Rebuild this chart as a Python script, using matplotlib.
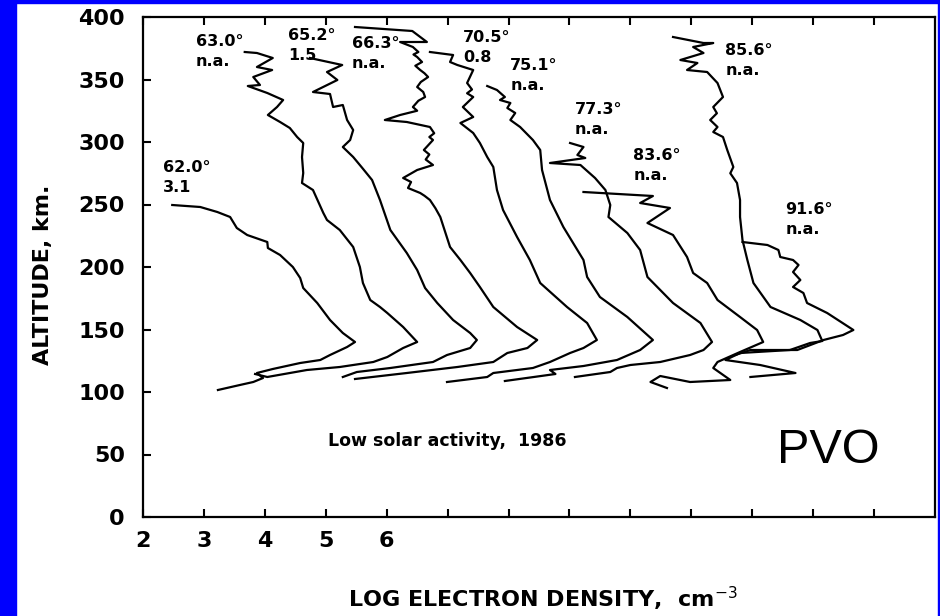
import matplotlib
matplotlib.use('Agg')
import matplotlib.pyplot as plt
from matplotlib.patches import Rectangle

# electron density profiles (log Ne shifted per profile, altitude km)
ne_620 = [2.48, 2.94, 3.22, 3.43, 3.54, 3.71, 4.04, 4.05, 4.25, 4.46, 4.58, 4.63, 4.86, 5.07, 5.28, 5.48,
          5.35, 5.07, 4.91, 4.58, 4.13, 3.87, 3.97, 3.81, 3.59, 3.23]
alt_620 = [249.6, 248.0, 244.0, 240.0, 231.2, 225.6, 220.0, 215.2, 209.6, 200.0, 191.2, 183.2, 171.2, 157.6, 147.2, 140.0,
           136.0, 129.6, 125.6, 123.2, 118.4, 115.2, 111.2, 108.0, 105.6, 101.6]

ne_630 = [3.67, 3.87, 4.13, 3.87, 4.12, 3.81, 3.92, 3.72, 4.04, 4.30, 4.20, 4.05, 4.25, 4.41, 4.53, 4.63, 4.61, 4.63,
          4.61, 4.79, 4.96, 5.02, 5.23, 5.45, 5.56, 5.61, 5.73, 5.89, 6.01, 6.27, 6.50,
          6.27, 6.01, 5.78, 5.23, 4.69, 4.04, 3.84]
alt_630 = [372.0, 371.2, 367.2, 360.0, 357.6, 352.0, 345.6, 344.8, 339.2, 333.6, 328.0, 321.6, 316.0, 311.2, 304.0, 299.2, 288.0, 275.2,
           267.2, 261.6, 243.2, 237.6, 229.6, 216.0, 200.0, 187.2, 173.6, 168.0, 163.2, 152.0, 140.0,
           135.2, 128.0, 124.0, 120.0, 117.6, 112.0, 114.4]

ne_652 = [4.74, 5.27, 5.02, 5.19, 4.79, 5.07, 5.12, 5.28, 5.35, 5.45, 5.40, 5.28, 5.45, 5.60, 5.76, 5.89, 6.06, 6.33,
          6.50, 6.63, 6.83, 7.09, 7.37, 7.48,
          7.37, 6.99, 6.76, 6.06, 5.51, 5.28]
alt_652 = [367.2, 361.6, 356.0, 349.6, 340.0, 338.4, 328.0, 329.6, 317.6, 309.6, 301.6, 296.0, 288.0, 279.2, 269.6, 253.6, 229.6, 211.2,
           197.6, 183.2, 171.2, 157.6, 147.2, 141.6,
           135.2, 129.6, 124.0, 119.2, 116.0, 112.0]

ne_663 = [5.48, 6.42, 6.66, 6.22, 6.43, 6.52, 6.44, 6.50, 6.58, 6.47, 6.55, 6.62, 6.68, 6.56, 6.50, 6.60, 6.63, 6.52,
          6.43, 6.50, 6.22, 5.97, 6.33, 6.71, 6.78, 6.70, 6.76, 6.61, 6.70, 6.64, 6.76, 6.50, 6.27, 6.40,
          6.35, 6.55, 6.62, 6.71, 6.80, 6.88, 6.96, 7.04, 7.21, 7.37, 7.53, 7.75, 8.14, 8.47,
          8.31, 7.98, 7.75, 7.16, 6.33, 5.48]
alt_663 = [392.0, 388.8, 380.0, 380.0, 376.0, 372.0, 370.0, 368.0, 364.0, 361.0, 357.6, 355.0, 352.0, 348.0, 344.0, 340.0, 336.0, 333.0,
           328.0, 325.0, 321.6, 317.6, 316.0, 312.0, 307.0, 304.0, 301.6, 293.6, 290.0, 286.0, 281.6, 277.6, 271.2, 268.0,
           263.2, 259.2, 257.0, 253.6, 247.0, 240.0, 228.0, 216.0, 205.6, 195.2, 184.0, 168.0, 152.0, 141.6,
           135.2, 131.2, 124.0, 120.0, 115.2, 110.4]

ne_705 = [6.71, 7.09, 7.04, 7.16, 7.42, 7.32, 7.40, 7.32, 7.42, 7.25, 7.42, 7.21, 7.42, 7.53, 7.65, 7.75, 7.81, 7.91, 8.14, 8.35,
          8.52, 8.96, 9.29, 9.45,
          9.23, 9.01, 8.68, 8.40, 7.75, 7.65, 6.99]
alt_705 = [372.0, 369.6, 364.0, 361.6, 357.6, 347.2, 342.0, 339.0, 336.0, 328.0, 320.0, 315.2, 307.2, 299.2, 288.0, 280.0, 261.6, 245.6, 224.0, 205.6,
           187.2, 168.0, 155.2, 141.6,
           135.2, 131.2, 124.0, 119.2, 115.2, 112.0, 108.0]

ne_751 = [7.65, 7.81, 7.94, 7.86, 8.03, 7.98, 8.11, 8.03, 8.19, 8.40, 8.52, 8.55, 8.68, 8.90, 9.06, 9.23, 9.29, 9.50,
          9.95, 10.37,
          10.16, 9.78, 9.23, 8.68, 8.77, 7.94]
alt_751 = [344.8, 341.6, 336.0, 333.6, 331.2, 327.2, 323.2, 317.6, 312.0, 301.6, 293.6, 277.6, 253.6, 232.0, 219.2, 205.6, 192.0, 176.0,
           160.0, 141.6,
           133.6, 125.6, 120.8, 117.6, 114.4, 108.8]

ne_773 = [9.01, 9.23, 9.13, 9.26, 8.68, 9.18, 9.42, 9.59, 9.67, 9.64, 9.95, 10.16, 10.28, 10.70, 11.15, 11.34,
          11.20, 10.98, 10.49, 10.00, 9.78, 9.67, 9.09]
alt_773 = [299.2, 296.0, 289.6, 287.2, 283.2, 281.6, 271.2, 261.6, 249.6, 240.0, 227.2, 213.6, 192.0, 171.2, 155.2, 140.0,
           133.6, 129.6, 124.0, 121.6, 119.2, 116.0, 112.0]

ne_836 = [9.23, 10.37, 10.16, 10.65, 10.28, 10.70, 10.93, 11.03, 11.26, 11.43, 11.80, 12.08, 12.18,
          11.80, 11.43, 11.36, 11.64, 10.98, 10.49, 10.33, 10.60]
alt_836 = [260.0, 256.8, 251.2, 247.2, 235.2, 225.6, 208.0, 195.2, 187.2, 173.6, 160.0, 149.6, 140.0,
           132.0, 124.0, 119.2, 109.6, 108.0, 112.8, 108.0, 103.2]

ne_856 = [10.70, 11.20, 11.36, 11.03, 11.20, 10.82, 11.10, 10.93, 11.26, 11.43, 11.52, 11.36, 11.42, 11.31, 11.43, 11.36,
          11.52, 11.59, 11.69, 11.64, 11.75, 11.80, 11.80, 11.84, 11.92, 12.02, 12.30, 12.79, 13.07, 13.15,
          12.95, 12.62, 11.80, 11.56, 12.13, 12.71, 11.97]
alt_856 = [384.0, 379.2, 379.2, 376.0, 371.2, 365.6, 363.2, 357.6, 356.0, 347.2, 336.0, 328.0, 323.0, 317.6, 312.0, 308.0,
           304.0, 293.6, 280.0, 275.0, 267.2, 253.6, 240.0, 221.6, 205.6, 187.2, 168.0, 157.6, 149.6, 140.8,
           139.2, 133.6, 131.2, 125.6, 121.6, 115.2, 112.0]

ne_916 = [11.84, 12.25, 12.43, 12.46, 12.67, 12.76, 12.67, 12.79, 12.67, 12.84, 12.90, 13.23, 13.66,
          13.49, 13.17, 12.74, 11.97, 11.72]
alt_916 = [220.0, 217.6, 213.6, 208.0, 205.6, 201.6, 196.0, 189.6, 184.0, 179.2, 171.2, 163.2, 149.6,
           145.6, 141.6, 133.6, 133.6, 129.6]

# profile labels: solar zenith angle and second line, with top-left anchor
sza_labels = ['62.0°\n3.1', '63.0°\nn.a.', '65.2°\n1.5', '66.3°\nn.a.', '70.5°\n0.8',
              '75.1°\nn.a.', '77.3°\nn.a.', '83.6°\nn.a.', '85.6°\nn.a.', '91.6°\nn.a.']
label_x = [2.33, 2.87, 4.38, 5.43, 7.25, 8.03, 9.09, 10.05, 11.56, 12.54]
label_alt = [285.6, 386.4, 391.2, 384.8, 389.6, 367.2, 332.0, 295.2, 379.2, 252.0]

xtick_labels = ['2', '3', '4', '5', '6']
yticks = [0, 50, 100, 150, 200, 250, 300, 350, 400]

profiles = [(ne_620, alt_620), (ne_630, alt_630), (ne_652, alt_652), (ne_663, alt_663),
            (ne_705, alt_705), (ne_751, alt_751), (ne_773, alt_773), (ne_836, alt_836),
            (ne_856, alt_856), (ne_916, alt_916)]

fig = plt.figure(figsize=(9.4, 6.16), dpi=100)
ax = fig.add_axes([143 / 940, 99 / 616, 792 / 940, 500 / 616])

for ne, alt in profiles:
    ax.plot(ne, alt, color='black', lw=1.6, solid_joinstyle='round')

for txt, x, y in zip(sza_labels, label_x, label_alt):
    ax.text(x, y, txt, fontsize=11.5, fontweight='bold', va='top', ha='left',
            linespacing=1.45)

ax.text(7.0, 61, 'Low solar activity,  1986', fontsize=12.5, fontweight='bold',
        ha='center', va='center')
ax.text(12.41, 43, 'PVO', fontsize=35, family='Liberation Sans', ha='left', va='baseline')

ax.set_xlim(2, 15)
ax.set_ylim(0, 400)
ax.set_xticks(range(2, 15))
ax.set_xticklabels(xtick_labels + [''] * 8)
ax.set_yticks(yticks)
ax.tick_params(axis='both', direction='in', length=6, width=1.5, labelsize=16)
ax.tick_params(axis='x', top=True, pad=10)
ax.tick_params(axis='y', pad=13)
for lab in ax.get_xticklabels() + ax.get_yticklabels():
    lab.set_fontweight('bold')
for sp in ax.spines.values():
    sp.set_linewidth(1.6)

fig.text(43 / 940, 1 - 275 / 616, 'ALTITUDE, km.', rotation=90, fontsize=16,
         fontweight='bold', ha='center', va='center')
fig.text(543 / 940, 9 / 616, 'LOG ELECTRON DENSITY,  cm$^{-3}$', fontsize=16,
         fontweight='bold', ha='center', va='baseline')

# blue slide frame
blue = '#0000fe'
fig.add_artist(Rectangle((0, 0), 16 / 940, 1, transform=fig.transFigure, color=blue))
fig.add_artist(Rectangle((0, 1 - 3 / 616), 1, 3 / 616, transform=fig.transFigure, color=blue))
fig.add_artist(Rectangle((1 - 2 / 940, 0), 2 / 940, 1, transform=fig.transFigure, color=blue))

fig.savefig('out.png', dpi=100)
